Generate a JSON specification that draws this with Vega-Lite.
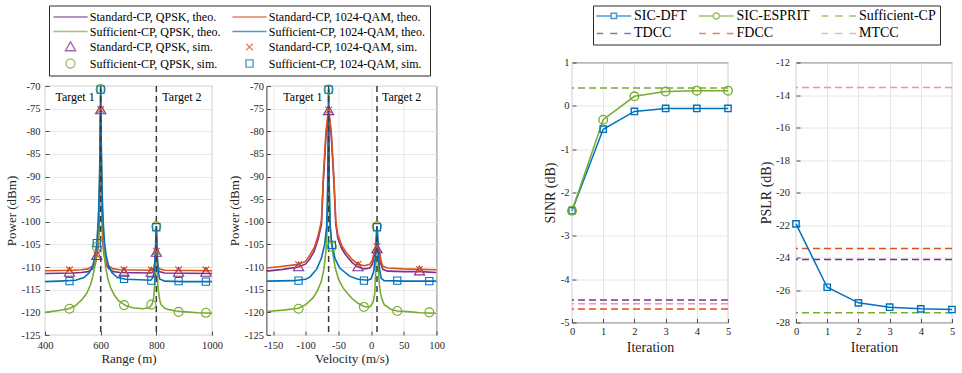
{
  "$schema": "https://vega.github.io/schema/vega-lite/v6.json",
  "background": "white",
  "padding": {"left": 4, "top": 4.5, "right": 2, "bottom": 0},
  "config": {
    "view": {"stroke": "#262626", "strokeWidth": 0.9},
    "font": "Liberation Serif",
    "axis": {
      "domain": false,
      "grid": true,
      "gridColor": "#e6e6e6",
      "gridWidth": 1,
      "ticks": true,
      "tickSize": -4,
      "tickColor": "#262626",
      "tickWidth": 0.8,
      "labelFont": "Liberation Serif",
      "labelFontSize": 10.5,
      "labelColor": "#262626",
      "labelFlush": false,
      "labelOverlap": false,
      "labelExpr": "replace(datum.label, '\u2212', '-')",
      "titleFont": "Liberation Serif",
      "titleFontSize": 13,
      "titleFontWeight": "normal",
      "titleColor": "#262626"
    },
    "axisX": {"titlePadding": 2, "labelPadding": 9},
    "axisY": {"titlePadding": 2.5, "labelPadding": 9},
    "legend": {"labelFont": "Liberation Serif", "labelColor": "#000000"},
    "text": {"font": "Liberation Serif", "fontSize": 12, "color": "#000000"}
  },
  "datasets": {
    "curves": [
      {"panel": "range", "series": "Standard-CP, QPSK, theo.", "x": 400, "p": -111.4},
      {"panel": "range", "series": "Standard-CP, QPSK, theo.", "x": 500, "p": -111.3},
      {"panel": "range", "series": "Standard-CP, QPSK, theo.", "x": 530, "p": -111.2},
      {"panel": "range", "series": "Standard-CP, QPSK, theo.", "x": 555, "p": -111.0},
      {"panel": "range", "series": "Standard-CP, QPSK, theo.", "x": 570, "p": -110.4},
      {"panel": "range", "series": "Standard-CP, QPSK, theo.", "x": 580, "p": -109.5},
      {"panel": "range", "series": "Standard-CP, QPSK, theo.", "x": 586, "p": -107.6},
      {"panel": "range", "series": "Standard-CP, QPSK, theo.", "x": 590, "p": -106.0},
      {"panel": "range", "series": "Standard-CP, QPSK, theo.", "x": 593, "p": -102.5},
      {"panel": "range", "series": "Standard-CP, QPSK, theo.", "x": 596, "p": -95.5},
      {"panel": "range", "series": "Standard-CP, QPSK, theo.", "x": 598, "p": -85.5},
      {"panel": "range", "series": "Standard-CP, QPSK, theo.", "x": 600, "p": -75.4},
      {"panel": "range", "series": "Standard-CP, QPSK, theo.", "x": 602, "p": -85.5},
      {"panel": "range", "series": "Standard-CP, QPSK, theo.", "x": 604, "p": -95.5},
      {"panel": "range", "series": "Standard-CP, QPSK, theo.", "x": 607, "p": -102.5},
      {"panel": "range", "series": "Standard-CP, QPSK, theo.", "x": 610, "p": -106.0},
      {"panel": "range", "series": "Standard-CP, QPSK, theo.", "x": 614, "p": -108.0},
      {"panel": "range", "series": "Standard-CP, QPSK, theo.", "x": 620, "p": -109.5},
      {"panel": "range", "series": "Standard-CP, QPSK, theo.", "x": 630, "p": -110.4},
      {"panel": "range", "series": "Standard-CP, QPSK, theo.", "x": 645, "p": -111.0},
      {"panel": "range", "series": "Standard-CP, QPSK, theo.", "x": 670, "p": -111.2},
      {"panel": "range", "series": "Standard-CP, QPSK, theo.", "x": 780, "p": -111.3},
      {"panel": "range", "series": "Standard-CP, QPSK, theo.", "x": 790, "p": -111.0},
      {"panel": "range", "series": "Standard-CP, QPSK, theo.", "x": 795, "p": -109.6},
      {"panel": "range", "series": "Standard-CP, QPSK, theo.", "x": 798, "p": -108.0},
      {"panel": "range", "series": "Standard-CP, QPSK, theo.", "x": 800, "p": -106.9},
      {"panel": "range", "series": "Standard-CP, QPSK, theo.", "x": 802, "p": -108.0},
      {"panel": "range", "series": "Standard-CP, QPSK, theo.", "x": 805, "p": -110.0},
      {"panel": "range", "series": "Standard-CP, QPSK, theo.", "x": 810, "p": -111.0},
      {"panel": "range", "series": "Standard-CP, QPSK, theo.", "x": 830, "p": -111.3},
      {"panel": "range", "series": "Standard-CP, QPSK, theo.", "x": 1000, "p": -111.4},

      {"panel": "range", "series": "Standard-CP, 1024-QAM, theo.", "x": 400, "p": -110.8},
      {"panel": "range", "series": "Standard-CP, 1024-QAM, theo.", "x": 500, "p": -110.7},
      {"panel": "range", "series": "Standard-CP, 1024-QAM, theo.", "x": 530, "p": -110.6},
      {"panel": "range", "series": "Standard-CP, 1024-QAM, theo.", "x": 555, "p": -110.4},
      {"panel": "range", "series": "Standard-CP, 1024-QAM, theo.", "x": 570, "p": -109.8},
      {"panel": "range", "series": "Standard-CP, 1024-QAM, theo.", "x": 580, "p": -108.9},
      {"panel": "range", "series": "Standard-CP, 1024-QAM, theo.", "x": 586, "p": -107.3},
      {"panel": "range", "series": "Standard-CP, 1024-QAM, theo.", "x": 590, "p": -105.5},
      {"panel": "range", "series": "Standard-CP, 1024-QAM, theo.", "x": 593, "p": -102.0},
      {"panel": "range", "series": "Standard-CP, 1024-QAM, theo.", "x": 596, "p": -95.0},
      {"panel": "range", "series": "Standard-CP, 1024-QAM, theo.", "x": 598, "p": -85.0},
      {"panel": "range", "series": "Standard-CP, 1024-QAM, theo.", "x": 600, "p": -75.2},
      {"panel": "range", "series": "Standard-CP, 1024-QAM, theo.", "x": 602, "p": -85.0},
      {"panel": "range", "series": "Standard-CP, 1024-QAM, theo.", "x": 604, "p": -95.0},
      {"panel": "range", "series": "Standard-CP, 1024-QAM, theo.", "x": 607, "p": -102.0},
      {"panel": "range", "series": "Standard-CP, 1024-QAM, theo.", "x": 610, "p": -105.5},
      {"panel": "range", "series": "Standard-CP, 1024-QAM, theo.", "x": 614, "p": -107.5},
      {"panel": "range", "series": "Standard-CP, 1024-QAM, theo.", "x": 620, "p": -108.9},
      {"panel": "range", "series": "Standard-CP, 1024-QAM, theo.", "x": 630, "p": -109.8},
      {"panel": "range", "series": "Standard-CP, 1024-QAM, theo.", "x": 645, "p": -110.4},
      {"panel": "range", "series": "Standard-CP, 1024-QAM, theo.", "x": 670, "p": -110.6},
      {"panel": "range", "series": "Standard-CP, 1024-QAM, theo.", "x": 780, "p": -110.7},
      {"panel": "range", "series": "Standard-CP, 1024-QAM, theo.", "x": 790, "p": -110.4},
      {"panel": "range", "series": "Standard-CP, 1024-QAM, theo.", "x": 795, "p": -109.0},
      {"panel": "range", "series": "Standard-CP, 1024-QAM, theo.", "x": 798, "p": -107.5},
      {"panel": "range", "series": "Standard-CP, 1024-QAM, theo.", "x": 800, "p": -106.4},
      {"panel": "range", "series": "Standard-CP, 1024-QAM, theo.", "x": 802, "p": -107.5},
      {"panel": "range", "series": "Standard-CP, 1024-QAM, theo.", "x": 805, "p": -109.5},
      {"panel": "range", "series": "Standard-CP, 1024-QAM, theo.", "x": 810, "p": -110.4},
      {"panel": "range", "series": "Standard-CP, 1024-QAM, theo.", "x": 830, "p": -110.7},
      {"panel": "range", "series": "Standard-CP, 1024-QAM, theo.", "x": 1000, "p": -110.8},

      {"panel": "range", "series": "Sufficient-CP, QPSK, theo.", "x": 400, "p": -120.0},
      {"panel": "range", "series": "Sufficient-CP, QPSK, theo.", "x": 450, "p": -119.6},
      {"panel": "range", "series": "Sufficient-CP, QPSK, theo.", "x": 486, "p": -119.2},
      {"panel": "range", "series": "Sufficient-CP, QPSK, theo.", "x": 510, "p": -118.5},
      {"panel": "range", "series": "Sufficient-CP, QPSK, theo.", "x": 534, "p": -117.1},
      {"panel": "range", "series": "Sufficient-CP, QPSK, theo.", "x": 550, "p": -115.8},
      {"panel": "range", "series": "Sufficient-CP, QPSK, theo.", "x": 564, "p": -113.8},
      {"panel": "range", "series": "Sufficient-CP, QPSK, theo.", "x": 572, "p": -112.0},
      {"panel": "range", "series": "Sufficient-CP, QPSK, theo.", "x": 580, "p": -109.4},
      {"panel": "range", "series": "Sufficient-CP, QPSK, theo.", "x": 586, "p": -106.5},
      {"panel": "range", "series": "Sufficient-CP, QPSK, theo.", "x": 590, "p": -103.5},
      {"panel": "range", "series": "Sufficient-CP, QPSK, theo.", "x": 594, "p": -97.0},
      {"panel": "range", "series": "Sufficient-CP, QPSK, theo.", "x": 597, "p": -88.0},
      {"panel": "range", "series": "Sufficient-CP, QPSK, theo.", "x": 599, "p": -78.0},
      {"panel": "range", "series": "Sufficient-CP, QPSK, theo.", "x": 600, "p": -70.6},
      {"panel": "range", "series": "Sufficient-CP, QPSK, theo.", "x": 601, "p": -78.0},
      {"panel": "range", "series": "Sufficient-CP, QPSK, theo.", "x": 603, "p": -88.0},
      {"panel": "range", "series": "Sufficient-CP, QPSK, theo.", "x": 606, "p": -97.0},
      {"panel": "range", "series": "Sufficient-CP, QPSK, theo.", "x": 610, "p": -103.5},
      {"panel": "range", "series": "Sufficient-CP, QPSK, theo.", "x": 614, "p": -107.5},
      {"panel": "range", "series": "Sufficient-CP, QPSK, theo.", "x": 618, "p": -110.1},
      {"panel": "range", "series": "Sufficient-CP, QPSK, theo.", "x": 626, "p": -112.6},
      {"panel": "range", "series": "Sufficient-CP, QPSK, theo.", "x": 636, "p": -114.6},
      {"panel": "range", "series": "Sufficient-CP, QPSK, theo.", "x": 650, "p": -116.3},
      {"panel": "range", "series": "Sufficient-CP, QPSK, theo.", "x": 666, "p": -117.5},
      {"panel": "range", "series": "Sufficient-CP, QPSK, theo.", "x": 690, "p": -118.5},
      {"panel": "range", "series": "Sufficient-CP, QPSK, theo.", "x": 714, "p": -119.0},
      {"panel": "range", "series": "Sufficient-CP, QPSK, theo.", "x": 750, "p": -119.2},
      {"panel": "range", "series": "Sufficient-CP, QPSK, theo.", "x": 774, "p": -119.0},
      {"panel": "range", "series": "Sufficient-CP, QPSK, theo.", "x": 784, "p": -118.3},
      {"panel": "range", "series": "Sufficient-CP, QPSK, theo.", "x": 790, "p": -117.0},
      {"panel": "range", "series": "Sufficient-CP, QPSK, theo.", "x": 794, "p": -114.0},
      {"panel": "range", "series": "Sufficient-CP, QPSK, theo.", "x": 797, "p": -108.0},
      {"panel": "range", "series": "Sufficient-CP, QPSK, theo.", "x": 799, "p": -103.0},
      {"panel": "range", "series": "Sufficient-CP, QPSK, theo.", "x": 800, "p": -101.0},
      {"panel": "range", "series": "Sufficient-CP, QPSK, theo.", "x": 801, "p": -103.0},
      {"panel": "range", "series": "Sufficient-CP, QPSK, theo.", "x": 803, "p": -110.0},
      {"panel": "range", "series": "Sufficient-CP, QPSK, theo.", "x": 806, "p": -114.6},
      {"panel": "range", "series": "Sufficient-CP, QPSK, theo.", "x": 812, "p": -117.2},
      {"panel": "range", "series": "Sufficient-CP, QPSK, theo.", "x": 816, "p": -118.2},
      {"panel": "range", "series": "Sufficient-CP, QPSK, theo.", "x": 830, "p": -119.1},
      {"panel": "range", "series": "Sufficient-CP, QPSK, theo.", "x": 846, "p": -119.4},
      {"panel": "range", "series": "Sufficient-CP, QPSK, theo.", "x": 870, "p": -119.7},
      {"panel": "range", "series": "Sufficient-CP, QPSK, theo.", "x": 905, "p": -119.9},
      {"panel": "range", "series": "Sufficient-CP, QPSK, theo.", "x": 950, "p": -120.1},
      {"panel": "range", "series": "Sufficient-CP, QPSK, theo.", "x": 1000, "p": -120.2},

      {"panel": "range", "series": "Sufficient-CP, 1024-QAM, theo.", "x": 400, "p": -113.2},
      {"panel": "range", "series": "Sufficient-CP, 1024-QAM, theo.", "x": 450, "p": -113.1},
      {"panel": "range", "series": "Sufficient-CP, 1024-QAM, theo.", "x": 510, "p": -112.9},
      {"panel": "range", "series": "Sufficient-CP, 1024-QAM, theo.", "x": 540, "p": -112.3},
      {"panel": "range", "series": "Sufficient-CP, 1024-QAM, theo.", "x": 560, "p": -111.2},
      {"panel": "range", "series": "Sufficient-CP, 1024-QAM, theo.", "x": 572, "p": -109.6},
      {"panel": "range", "series": "Sufficient-CP, 1024-QAM, theo.", "x": 580, "p": -107.5},
      {"panel": "range", "series": "Sufficient-CP, 1024-QAM, theo.", "x": 586, "p": -104.7},
      {"panel": "range", "series": "Sufficient-CP, 1024-QAM, theo.", "x": 590, "p": -101.0},
      {"panel": "range", "series": "Sufficient-CP, 1024-QAM, theo.", "x": 593, "p": -97.0},
      {"panel": "range", "series": "Sufficient-CP, 1024-QAM, theo.", "x": 596, "p": -90.0},
      {"panel": "range", "series": "Sufficient-CP, 1024-QAM, theo.", "x": 598, "p": -82.0},
      {"panel": "range", "series": "Sufficient-CP, 1024-QAM, theo.", "x": 600, "p": -70.6},
      {"panel": "range", "series": "Sufficient-CP, 1024-QAM, theo.", "x": 602, "p": -82.0},
      {"panel": "range", "series": "Sufficient-CP, 1024-QAM, theo.", "x": 604, "p": -90.0},
      {"panel": "range", "series": "Sufficient-CP, 1024-QAM, theo.", "x": 607, "p": -97.0},
      {"panel": "range", "series": "Sufficient-CP, 1024-QAM, theo.", "x": 610, "p": -101.0},
      {"panel": "range", "series": "Sufficient-CP, 1024-QAM, theo.", "x": 614, "p": -104.7},
      {"panel": "range", "series": "Sufficient-CP, 1024-QAM, theo.", "x": 620, "p": -107.5},
      {"panel": "range", "series": "Sufficient-CP, 1024-QAM, theo.", "x": 628, "p": -109.6},
      {"panel": "range", "series": "Sufficient-CP, 1024-QAM, theo.", "x": 640, "p": -111.2},
      {"panel": "range", "series": "Sufficient-CP, 1024-QAM, theo.", "x": 660, "p": -112.3},
      {"panel": "range", "series": "Sufficient-CP, 1024-QAM, theo.", "x": 690, "p": -112.7},
      {"panel": "range", "series": "Sufficient-CP, 1024-QAM, theo.", "x": 740, "p": -112.8},
      {"panel": "range", "series": "Sufficient-CP, 1024-QAM, theo.", "x": 780, "p": -112.9},
      {"panel": "range", "series": "Sufficient-CP, 1024-QAM, theo.", "x": 788, "p": -112.3},
      {"panel": "range", "series": "Sufficient-CP, 1024-QAM, theo.", "x": 793, "p": -110.5},
      {"panel": "range", "series": "Sufficient-CP, 1024-QAM, theo.", "x": 796, "p": -107.0},
      {"panel": "range", "series": "Sufficient-CP, 1024-QAM, theo.", "x": 798, "p": -104.0},
      {"panel": "range", "series": "Sufficient-CP, 1024-QAM, theo.", "x": 800, "p": -101.1},
      {"panel": "range", "series": "Sufficient-CP, 1024-QAM, theo.", "x": 802, "p": -104.0},
      {"panel": "range", "series": "Sufficient-CP, 1024-QAM, theo.", "x": 804, "p": -108.0},
      {"panel": "range", "series": "Sufficient-CP, 1024-QAM, theo.", "x": 807, "p": -111.0},
      {"panel": "range", "series": "Sufficient-CP, 1024-QAM, theo.", "x": 812, "p": -112.6},
      {"panel": "range", "series": "Sufficient-CP, 1024-QAM, theo.", "x": 830, "p": -113.1},
      {"panel": "range", "series": "Sufficient-CP, 1024-QAM, theo.", "x": 900, "p": -113.2},
      {"panel": "range", "series": "Sufficient-CP, 1024-QAM, theo.", "x": 1000, "p": -113.2},

      {"panel": "velocity", "series": "Standard-CP, QPSK, theo.", "x": -160, "p": -110.9},
      {"panel": "velocity", "series": "Standard-CP, QPSK, theo.", "x": -135, "p": -110.5},
      {"panel": "velocity", "series": "Standard-CP, QPSK, theo.", "x": -111, "p": -110.0},
      {"panel": "velocity", "series": "Standard-CP, QPSK, theo.", "x": -100, "p": -109.3},
      {"panel": "velocity", "series": "Standard-CP, QPSK, theo.", "x": -94, "p": -108.2},
      {"panel": "velocity", "series": "Standard-CP, QPSK, theo.", "x": -87, "p": -106.5},
      {"panel": "velocity", "series": "Standard-CP, QPSK, theo.", "x": -81, "p": -103.8},
      {"panel": "velocity", "series": "Standard-CP, QPSK, theo.", "x": -76, "p": -100.6},
      {"panel": "velocity", "series": "Standard-CP, QPSK, theo.", "x": -73, "p": -91.0},
      {"panel": "velocity", "series": "Standard-CP, QPSK, theo.", "x": -69, "p": -81.0},
      {"panel": "velocity", "series": "Standard-CP, QPSK, theo.", "x": -65, "p": -75.5},
      {"panel": "velocity", "series": "Standard-CP, QPSK, theo.", "x": -61, "p": -81.0},
      {"panel": "velocity", "series": "Standard-CP, QPSK, theo.", "x": -57, "p": -91.0},
      {"panel": "velocity", "series": "Standard-CP, QPSK, theo.", "x": -54, "p": -100.6},
      {"panel": "velocity", "series": "Standard-CP, QPSK, theo.", "x": -51, "p": -103.6},
      {"panel": "velocity", "series": "Standard-CP, QPSK, theo.", "x": -45, "p": -105.9},
      {"panel": "velocity", "series": "Standard-CP, QPSK, theo.", "x": -39, "p": -107.3},
      {"panel": "velocity", "series": "Standard-CP, QPSK, theo.", "x": -29, "p": -109.0},
      {"panel": "velocity", "series": "Standard-CP, QPSK, theo.", "x": -20, "p": -110.0},
      {"panel": "velocity", "series": "Standard-CP, QPSK, theo.", "x": -10, "p": -110.4},
      {"panel": "velocity", "series": "Standard-CP, QPSK, theo.", "x": -2, "p": -110.2},
      {"panel": "velocity", "series": "Standard-CP, QPSK, theo.", "x": 2, "p": -109.3},
      {"panel": "velocity", "series": "Standard-CP, QPSK, theo.", "x": 5, "p": -107.3},
      {"panel": "velocity", "series": "Standard-CP, QPSK, theo.", "x": 7, "p": -106.3},
      {"panel": "velocity", "series": "Standard-CP, QPSK, theo.", "x": 9, "p": -106.0},
      {"panel": "velocity", "series": "Standard-CP, QPSK, theo.", "x": 11, "p": -106.3},
      {"panel": "velocity", "series": "Standard-CP, QPSK, theo.", "x": 13, "p": -107.3},
      {"panel": "velocity", "series": "Standard-CP, QPSK, theo.", "x": 15, "p": -109.3},
      {"panel": "velocity", "series": "Standard-CP, QPSK, theo.", "x": 18, "p": -110.5},
      {"panel": "velocity", "series": "Standard-CP, QPSK, theo.", "x": 25, "p": -110.9},
      {"panel": "velocity", "series": "Standard-CP, QPSK, theo.", "x": 50, "p": -111.0},
      {"panel": "velocity", "series": "Standard-CP, QPSK, theo.", "x": 75, "p": -111.0},
      {"panel": "velocity", "series": "Standard-CP, QPSK, theo.", "x": 100, "p": -111.2},

      {"panel": "velocity", "series": "Standard-CP, 1024-QAM, theo.", "x": -160, "p": -110.2},
      {"panel": "velocity", "series": "Standard-CP, 1024-QAM, theo.", "x": -135, "p": -109.8},
      {"panel": "velocity", "series": "Standard-CP, 1024-QAM, theo.", "x": -111, "p": -109.4},
      {"panel": "velocity", "series": "Standard-CP, 1024-QAM, theo.", "x": -100, "p": -108.7},
      {"panel": "velocity", "series": "Standard-CP, 1024-QAM, theo.", "x": -94, "p": -107.4},
      {"panel": "velocity", "series": "Standard-CP, 1024-QAM, theo.", "x": -87, "p": -105.7},
      {"panel": "velocity", "series": "Standard-CP, 1024-QAM, theo.", "x": -81, "p": -103.0},
      {"panel": "velocity", "series": "Standard-CP, 1024-QAM, theo.", "x": -76, "p": -99.8},
      {"panel": "velocity", "series": "Standard-CP, 1024-QAM, theo.", "x": -73, "p": -89.9},
      {"panel": "velocity", "series": "Standard-CP, 1024-QAM, theo.", "x": -69, "p": -79.9},
      {"panel": "velocity", "series": "Standard-CP, 1024-QAM, theo.", "x": -65, "p": -75.2},
      {"panel": "velocity", "series": "Standard-CP, 1024-QAM, theo.", "x": -61, "p": -79.9},
      {"panel": "velocity", "series": "Standard-CP, 1024-QAM, theo.", "x": -57, "p": -89.9},
      {"panel": "velocity", "series": "Standard-CP, 1024-QAM, theo.", "x": -54, "p": -99.8},
      {"panel": "velocity", "series": "Standard-CP, 1024-QAM, theo.", "x": -51, "p": -102.8},
      {"panel": "velocity", "series": "Standard-CP, 1024-QAM, theo.", "x": -45, "p": -105.2},
      {"panel": "velocity", "series": "Standard-CP, 1024-QAM, theo.", "x": -39, "p": -106.6},
      {"panel": "velocity", "series": "Standard-CP, 1024-QAM, theo.", "x": -29, "p": -108.3},
      {"panel": "velocity", "series": "Standard-CP, 1024-QAM, theo.", "x": -20, "p": -109.4},
      {"panel": "velocity", "series": "Standard-CP, 1024-QAM, theo.", "x": -10, "p": -109.7},
      {"panel": "velocity", "series": "Standard-CP, 1024-QAM, theo.", "x": -2, "p": -109.4},
      {"panel": "velocity", "series": "Standard-CP, 1024-QAM, theo.", "x": 2, "p": -108.4},
      {"panel": "velocity", "series": "Standard-CP, 1024-QAM, theo.", "x": 5, "p": -106.6},
      {"panel": "velocity", "series": "Standard-CP, 1024-QAM, theo.", "x": 7, "p": -105.7},
      {"panel": "velocity", "series": "Standard-CP, 1024-QAM, theo.", "x": 9, "p": -105.5},
      {"panel": "velocity", "series": "Standard-CP, 1024-QAM, theo.", "x": 11, "p": -105.7},
      {"panel": "velocity", "series": "Standard-CP, 1024-QAM, theo.", "x": 13, "p": -106.6},
      {"panel": "velocity", "series": "Standard-CP, 1024-QAM, theo.", "x": 15, "p": -108.6},
      {"panel": "velocity", "series": "Standard-CP, 1024-QAM, theo.", "x": 18, "p": -109.8},
      {"panel": "velocity", "series": "Standard-CP, 1024-QAM, theo.", "x": 25, "p": -110.2},
      {"panel": "velocity", "series": "Standard-CP, 1024-QAM, theo.", "x": 50, "p": -110.4},
      {"panel": "velocity", "series": "Standard-CP, 1024-QAM, theo.", "x": 75, "p": -110.5},
      {"panel": "velocity", "series": "Standard-CP, 1024-QAM, theo.", "x": 100, "p": -110.6},

      {"panel": "velocity", "series": "Sufficient-CP, QPSK, theo.", "x": -160, "p": -119.8},
      {"panel": "velocity", "series": "Sufficient-CP, QPSK, theo.", "x": -135, "p": -119.5},
      {"panel": "velocity", "series": "Sufficient-CP, QPSK, theo.", "x": -111, "p": -119.1},
      {"panel": "velocity", "series": "Sufficient-CP, QPSK, theo.", "x": -100, "p": -118.3},
      {"panel": "velocity", "series": "Sufficient-CP, QPSK, theo.", "x": -89, "p": -116.8},
      {"panel": "velocity", "series": "Sufficient-CP, QPSK, theo.", "x": -82, "p": -115.2},
      {"panel": "velocity", "series": "Sufficient-CP, QPSK, theo.", "x": -76, "p": -113.1},
      {"panel": "velocity", "series": "Sufficient-CP, QPSK, theo.", "x": -72, "p": -110.3},
      {"panel": "velocity", "series": "Sufficient-CP, QPSK, theo.", "x": -69, "p": -106.4},
      {"panel": "velocity", "series": "Sufficient-CP, QPSK, theo.", "x": -67, "p": -101.0},
      {"panel": "velocity", "series": "Sufficient-CP, QPSK, theo.", "x": -66, "p": -95.0},
      {"panel": "velocity", "series": "Sufficient-CP, QPSK, theo.", "x": -65, "p": -70.8},
      {"panel": "velocity", "series": "Sufficient-CP, QPSK, theo.", "x": -64, "p": -95.0},
      {"panel": "velocity", "series": "Sufficient-CP, QPSK, theo.", "x": -63, "p": -100.5},
      {"panel": "velocity", "series": "Sufficient-CP, QPSK, theo.", "x": -61, "p": -104.0},
      {"panel": "velocity", "series": "Sufficient-CP, QPSK, theo.", "x": -58, "p": -107.5},
      {"panel": "velocity", "series": "Sufficient-CP, QPSK, theo.", "x": -55, "p": -110.1},
      {"panel": "velocity", "series": "Sufficient-CP, QPSK, theo.", "x": -50, "p": -112.6},
      {"panel": "velocity", "series": "Sufficient-CP, QPSK, theo.", "x": -43, "p": -114.6},
      {"panel": "velocity", "series": "Sufficient-CP, QPSK, theo.", "x": -35, "p": -116.0},
      {"panel": "velocity", "series": "Sufficient-CP, QPSK, theo.", "x": -28, "p": -117.1},
      {"panel": "velocity", "series": "Sufficient-CP, QPSK, theo.", "x": -20, "p": -118.0},
      {"panel": "velocity", "series": "Sufficient-CP, QPSK, theo.", "x": -11, "p": -118.7},
      {"panel": "velocity", "series": "Sufficient-CP, QPSK, theo.", "x": -2, "p": -118.8},
      {"panel": "velocity", "series": "Sufficient-CP, QPSK, theo.", "x": 3, "p": -117.8},
      {"panel": "velocity", "series": "Sufficient-CP, QPSK, theo.", "x": 5.5, "p": -116.0},
      {"panel": "velocity", "series": "Sufficient-CP, QPSK, theo.", "x": 7, "p": -111.0},
      {"panel": "velocity", "series": "Sufficient-CP, QPSK, theo.", "x": 8, "p": -104.0},
      {"panel": "velocity", "series": "Sufficient-CP, QPSK, theo.", "x": 9, "p": -101.0},
      {"panel": "velocity", "series": "Sufficient-CP, QPSK, theo.", "x": 10, "p": -104.0},
      {"panel": "velocity", "series": "Sufficient-CP, QPSK, theo.", "x": 11, "p": -110.0},
      {"panel": "velocity", "series": "Sufficient-CP, QPSK, theo.", "x": 12.5, "p": -113.5},
      {"panel": "velocity", "series": "Sufficient-CP, QPSK, theo.", "x": 14, "p": -115.5},
      {"panel": "velocity", "series": "Sufficient-CP, QPSK, theo.", "x": 16, "p": -116.8},
      {"panel": "velocity", "series": "Sufficient-CP, QPSK, theo.", "x": 20, "p": -118.3},
      {"panel": "velocity", "series": "Sufficient-CP, QPSK, theo.", "x": 30, "p": -119.3},
      {"panel": "velocity", "series": "Sufficient-CP, QPSK, theo.", "x": 40, "p": -119.7},
      {"panel": "velocity", "series": "Sufficient-CP, QPSK, theo.", "x": 60, "p": -119.9},
      {"panel": "velocity", "series": "Sufficient-CP, QPSK, theo.", "x": 75, "p": -120.1},
      {"panel": "velocity", "series": "Sufficient-CP, QPSK, theo.", "x": 100, "p": -120.2},

      {"panel": "velocity", "series": "Sufficient-CP, 1024-QAM, theo.", "x": -160, "p": -113.1},
      {"panel": "velocity", "series": "Sufficient-CP, 1024-QAM, theo.", "x": -120, "p": -113.0},
      {"panel": "velocity", "series": "Sufficient-CP, 1024-QAM, theo.", "x": -100, "p": -112.7},
      {"panel": "velocity", "series": "Sufficient-CP, 1024-QAM, theo.", "x": -93, "p": -112.1},
      {"panel": "velocity", "series": "Sufficient-CP, 1024-QAM, theo.", "x": -83, "p": -110.4},
      {"panel": "velocity", "series": "Sufficient-CP, 1024-QAM, theo.", "x": -76, "p": -108.0},
      {"panel": "velocity", "series": "Sufficient-CP, 1024-QAM, theo.", "x": -71, "p": -105.0},
      {"panel": "velocity", "series": "Sufficient-CP, 1024-QAM, theo.", "x": -68, "p": -101.0},
      {"panel": "velocity", "series": "Sufficient-CP, 1024-QAM, theo.", "x": -66.5, "p": -92.0},
      {"panel": "velocity", "series": "Sufficient-CP, 1024-QAM, theo.", "x": -65, "p": -70.8},
      {"panel": "velocity", "series": "Sufficient-CP, 1024-QAM, theo.", "x": -64, "p": -92.0},
      {"panel": "velocity", "series": "Sufficient-CP, 1024-QAM, theo.", "x": -62.5, "p": -101.0},
      {"panel": "velocity", "series": "Sufficient-CP, 1024-QAM, theo.", "x": -60, "p": -105.0},
      {"panel": "velocity", "series": "Sufficient-CP, 1024-QAM, theo.", "x": -55, "p": -108.2},
      {"panel": "velocity", "series": "Sufficient-CP, 1024-QAM, theo.", "x": -48, "p": -110.2},
      {"panel": "velocity", "series": "Sufficient-CP, 1024-QAM, theo.", "x": -33, "p": -112.0},
      {"panel": "velocity", "series": "Sufficient-CP, 1024-QAM, theo.", "x": -20, "p": -112.7},
      {"panel": "velocity", "series": "Sufficient-CP, 1024-QAM, theo.", "x": -5, "p": -112.9},
      {"panel": "velocity", "series": "Sufficient-CP, 1024-QAM, theo.", "x": 0, "p": -112.6},
      {"panel": "velocity", "series": "Sufficient-CP, 1024-QAM, theo.", "x": 4, "p": -111.0},
      {"panel": "velocity", "series": "Sufficient-CP, 1024-QAM, theo.", "x": 6.5, "p": -107.5},
      {"panel": "velocity", "series": "Sufficient-CP, 1024-QAM, theo.", "x": 8, "p": -103.0},
      {"panel": "velocity", "series": "Sufficient-CP, 1024-QAM, theo.", "x": 9, "p": -101.2},
      {"panel": "velocity", "series": "Sufficient-CP, 1024-QAM, theo.", "x": 10, "p": -103.0},
      {"panel": "velocity", "series": "Sufficient-CP, 1024-QAM, theo.", "x": 11.5, "p": -107.5},
      {"panel": "velocity", "series": "Sufficient-CP, 1024-QAM, theo.", "x": 13, "p": -110.5},
      {"panel": "velocity", "series": "Sufficient-CP, 1024-QAM, theo.", "x": 15.5, "p": -112.5},
      {"panel": "velocity", "series": "Sufficient-CP, 1024-QAM, theo.", "x": 20, "p": -113.0},
      {"panel": "velocity", "series": "Sufficient-CP, 1024-QAM, theo.", "x": 50, "p": -113.1},
      {"panel": "velocity", "series": "Sufficient-CP, 1024-QAM, theo.", "x": 100, "p": -113.1}
    ],
    "sims": [
      {"panel": "range", "series": "Standard-CP, QPSK, sim.", "x": 488, "p": -111.2},
      {"panel": "range", "series": "Standard-CP, QPSK, sim.", "x": 586, "p": -107.5},
      {"panel": "range", "series": "Standard-CP, QPSK, sim.", "x": 600, "p": -75.3},
      {"panel": "range", "series": "Standard-CP, QPSK, sim.", "x": 684, "p": -111.2},
      {"panel": "range", "series": "Standard-CP, QPSK, sim.", "x": 782, "p": -111.2},
      {"panel": "range", "series": "Standard-CP, QPSK, sim.", "x": 800, "p": -106.8},
      {"panel": "range", "series": "Standard-CP, QPSK, sim.", "x": 880, "p": -111.2},
      {"panel": "range", "series": "Standard-CP, QPSK, sim.", "x": 978, "p": -111.2},
      {"panel": "range", "series": "Standard-CP, 1024-QAM, sim.", "x": 488, "p": -110.6},
      {"panel": "range", "series": "Standard-CP, 1024-QAM, sim.", "x": 586, "p": -107.3},
      {"panel": "range", "series": "Standard-CP, 1024-QAM, sim.", "x": 600, "p": -75.2},
      {"panel": "range", "series": "Standard-CP, 1024-QAM, sim.", "x": 684, "p": -110.6},
      {"panel": "range", "series": "Standard-CP, 1024-QAM, sim.", "x": 782, "p": -110.6},
      {"panel": "range", "series": "Standard-CP, 1024-QAM, sim.", "x": 800, "p": -106.5},
      {"panel": "range", "series": "Standard-CP, 1024-QAM, sim.", "x": 880, "p": -110.6},
      {"panel": "range", "series": "Standard-CP, 1024-QAM, sim.", "x": 978, "p": -110.6},
      {"panel": "range", "series": "Sufficient-CP, QPSK, sim.", "x": 488, "p": -119.2},
      {"panel": "range", "series": "Sufficient-CP, QPSK, sim.", "x": 586, "p": -105.5},
      {"panel": "range", "series": "Sufficient-CP, QPSK, sim.", "x": 600, "p": -70.7},
      {"panel": "range", "series": "Sufficient-CP, QPSK, sim.", "x": 684, "p": -118.4},
      {"panel": "range", "series": "Sufficient-CP, QPSK, sim.", "x": 782, "p": -118.3},
      {"panel": "range", "series": "Sufficient-CP, QPSK, sim.", "x": 800, "p": -101.0},
      {"panel": "range", "series": "Sufficient-CP, QPSK, sim.", "x": 880, "p": -119.9},
      {"panel": "range", "series": "Sufficient-CP, QPSK, sim.", "x": 978, "p": -120.1},
      {"panel": "range", "series": "Sufficient-CP, 1024-QAM, sim.", "x": 488, "p": -113.1},
      {"panel": "range", "series": "Sufficient-CP, 1024-QAM, sim.", "x": 586, "p": -104.7},
      {"panel": "range", "series": "Sufficient-CP, 1024-QAM, sim.", "x": 600, "p": -70.8},
      {"panel": "range", "series": "Sufficient-CP, 1024-QAM, sim.", "x": 684, "p": -112.6},
      {"panel": "range", "series": "Sufficient-CP, 1024-QAM, sim.", "x": 782, "p": -113.0},
      {"panel": "range", "series": "Sufficient-CP, 1024-QAM, sim.", "x": 800, "p": -101.2},
      {"panel": "range", "series": "Sufficient-CP, 1024-QAM, sim.", "x": 880, "p": -113.1},
      {"panel": "range", "series": "Sufficient-CP, 1024-QAM, sim.", "x": 978, "p": -113.2},

      {"panel": "velocity", "series": "Standard-CP, QPSK, sim.", "x": -111, "p": -110.0},
      {"panel": "velocity", "series": "Standard-CP, QPSK, sim.", "x": -65, "p": -75.5},
      {"panel": "velocity", "series": "Standard-CP, QPSK, sim.", "x": -20, "p": -110.0},
      {"panel": "velocity", "series": "Standard-CP, QPSK, sim.", "x": 9, "p": -106.0},
      {"panel": "velocity", "series": "Standard-CP, QPSK, sim.", "x": 74, "p": -110.9},
      {"panel": "velocity", "series": "Standard-CP, 1024-QAM, sim.", "x": -111, "p": -109.4},
      {"panel": "velocity", "series": "Standard-CP, 1024-QAM, sim.", "x": -65, "p": -75.3},
      {"panel": "velocity", "series": "Standard-CP, 1024-QAM, sim.", "x": -20, "p": -109.4},
      {"panel": "velocity", "series": "Standard-CP, 1024-QAM, sim.", "x": 9, "p": -105.5},
      {"panel": "velocity", "series": "Standard-CP, 1024-QAM, sim.", "x": 74, "p": -110.5},
      {"panel": "velocity", "series": "Sufficient-CP, QPSK, sim.", "x": -111, "p": -119.2},
      {"panel": "velocity", "series": "Sufficient-CP, QPSK, sim.", "x": -65, "p": -70.8},
      {"panel": "velocity", "series": "Sufficient-CP, QPSK, sim.", "x": -60, "p": -105.5},
      {"panel": "velocity", "series": "Sufficient-CP, QPSK, sim.", "x": -11, "p": -118.8},
      {"panel": "velocity", "series": "Sufficient-CP, QPSK, sim.", "x": 9, "p": -101.0},
      {"panel": "velocity", "series": "Sufficient-CP, QPSK, sim.", "x": 40, "p": -119.7},
      {"panel": "velocity", "series": "Sufficient-CP, QPSK, sim.", "x": 89, "p": -120.0},
      {"panel": "velocity", "series": "Sufficient-CP, 1024-QAM, sim.", "x": -111, "p": -113.0},
      {"panel": "velocity", "series": "Sufficient-CP, 1024-QAM, sim.", "x": -65, "p": -70.8},
      {"panel": "velocity", "series": "Sufficient-CP, 1024-QAM, sim.", "x": -60, "p": -105.1},
      {"panel": "velocity", "series": "Sufficient-CP, 1024-QAM, sim.", "x": -11, "p": -113.0},
      {"panel": "velocity", "series": "Sufficient-CP, 1024-QAM, sim.", "x": 9, "p": -101.2},
      {"panel": "velocity", "series": "Sufficient-CP, 1024-QAM, sim.", "x": 40, "p": -113.0},
      {"panel": "velocity", "series": "Sufficient-CP, 1024-QAM, sim.", "x": 89, "p": -113.1}
    ],
    "targets": [
      {"panel": "range", "label": "Target 1", "x": 600},
      {"panel": "range", "label": "Target 2", "x": 800},
      {"panel": "velocity", "label": "Target 1", "x": -65},
      {"panel": "velocity", "label": "Target 2", "x": 9}
    ],
    "iter": [
      {"metric": "SINR", "series": "SIC-DFT", "it": 0, "v": -2.42},
      {"metric": "SINR", "series": "SIC-DFT", "it": 1, "v": -0.54},
      {"metric": "SINR", "series": "SIC-DFT", "it": 2, "v": -0.13},
      {"metric": "SINR", "series": "SIC-DFT", "it": 3, "v": -0.06},
      {"metric": "SINR", "series": "SIC-DFT", "it": 4, "v": -0.06},
      {"metric": "SINR", "series": "SIC-DFT", "it": 5, "v": -0.06},
      {"metric": "SINR", "series": "SIC-ESPRIT", "it": 0, "v": -2.42},
      {"metric": "SINR", "series": "SIC-ESPRIT", "it": 1, "v": -0.32},
      {"metric": "SINR", "series": "SIC-ESPRIT", "it": 2, "v": 0.22},
      {"metric": "SINR", "series": "SIC-ESPRIT", "it": 3, "v": 0.33},
      {"metric": "SINR", "series": "SIC-ESPRIT", "it": 4, "v": 0.35},
      {"metric": "SINR", "series": "SIC-ESPRIT", "it": 5, "v": 0.35},
      {"metric": "PSLR", "series": "SIC-DFT", "it": 0, "v": -21.93},
      {"metric": "PSLR", "series": "SIC-DFT", "it": 1, "v": -25.83},
      {"metric": "PSLR", "series": "SIC-DFT", "it": 2, "v": -26.79},
      {"metric": "PSLR", "series": "SIC-DFT", "it": 3, "v": -27.06},
      {"metric": "PSLR", "series": "SIC-DFT", "it": 4, "v": -27.16},
      {"metric": "PSLR", "series": "SIC-DFT", "it": 5, "v": -27.2}
    ],
    "bench": [
      {"metric": "SINR", "series": "Sufficient-CP", "v": 0.41},
      {"metric": "SINR", "series": "TDCC", "v": -4.48},
      {"metric": "SINR", "series": "FDCC", "v": -4.69},
      {"metric": "SINR", "series": "MTCC", "v": -4.57},
      {"metric": "PSLR", "series": "Sufficient-CP", "v": -27.4},
      {"metric": "PSLR", "series": "TDCC", "v": -24.12},
      {"metric": "PSLR", "series": "FDCC", "v": -23.45},
      {"metric": "PSLR", "series": "MTCC", "v": -13.54}
    ]
  },
  "spacing": 98,
  "resolve": {
    "scale": {"color": "independent", "shape": "independent"},
    "legend": {"color": "independent", "shape": "independent"}
  },
  "hconcat": [
    {
      "spacing": 3.5,
      "resolve": {
        "scale": {"color": "independent", "shape": "independent"},
        "legend": {"color": "independent", "shape": "independent"}
      },
      "vconcat": [
        {
          "width": 1,
          "height": 1,
          "view": {"stroke": null},
          "data": {"name": "sims"},
          "transform": [{"filter": "false"}],
          "mark": {"type": "point", "filled": false},
          "encoding": {
            "color": {
              "field": "series", "type": "nominal",
              "scale": {
                "domain": ["Standard-CP, QPSK, theo.", "Sufficient-CP, QPSK, theo.", "Standard-CP, QPSK, sim.", "Sufficient-CP, QPSK, sim.", "Standard-CP, 1024-QAM, theo.", "Sufficient-CP, 1024-QAM, theo.", "Standard-CP, 1024-QAM, sim.", "Sufficient-CP, 1024-QAM, sim."],
                "range": ["#7E2F8E", "#77AC30", "#7E2F8E", "#77AC30", "#D95319", "#0072BD", "#D95319", "#0072BD"]
              },
              "legend": {"title": null, "orient": "none", "legendX": 4, "legendY": 0, "columns": 2, "columnPadding": 8, "rowPadding": 1.5, "symbolSize": 144, "symbolOffset": 10, "labelOffset": 12.3, "symbolStrokeWidth": 1.4, "labelFontSize": 12, "labelLimit": 400, "padding": 4.5, "strokeColor": "#2b2b2b", "fillColor": "#ffffff"}
            },
            "shape": {
              "field": "series", "type": "nominal",
              "scale": {
                "domain": ["Standard-CP, QPSK, theo.", "Sufficient-CP, QPSK, theo.", "Standard-CP, QPSK, sim.", "Sufficient-CP, QPSK, sim.", "Standard-CP, 1024-QAM, theo.", "Sufficient-CP, 1024-QAM, theo.", "Standard-CP, 1024-QAM, sim.", "Sufficient-CP, 1024-QAM, sim."],
                "range": ["M-2.85,0H2.85", "M-2.85,0H2.85", "M0,-0.85L0.85,0.62L-0.85,0.62Z", "M-0.75,0A0.75,0.75,0,1,0,0.75,0A0.75,0.75,0,1,0,-0.75,0Z", "M-2.85,0H2.85", "M-2.85,0H2.85", "M-0.55,-0.55L0.55,0.55M-0.55,0.55L0.55,-0.55", "M-0.6,-0.6H0.6V0.6H-0.6Z"]
              },
              "legend": {"title": null, "orient": "none", "legendX": 4, "legendY": 0, "columns": 2, "columnPadding": 8, "rowPadding": 1.5, "symbolSize": 144, "symbolOffset": 10, "labelOffset": 12.3, "symbolStrokeWidth": 1.4, "labelFontSize": 12, "labelLimit": 400, "padding": 4.5, "strokeColor": "#2b2b2b", "fillColor": "#ffffff"}
            }
          }
        },
        {
          "spacing": 4.5,
          "resolve": {
            "scale": {"color": "independent", "shape": "independent"},
            "legend": {"color": "independent", "shape": "independent"}
          },
          "hconcat": [
            {
              "width": 167,
              "height": 249,
              "layer": [
                {
                  "data": {"name": "curves"},
                  "transform": [{"filter": "datum.panel === 'range'"}],
                  "mark": {"type": "line", "strokeWidth": 1.6, "clip": true},
                  "encoding": {
                    "x": {"field": "x", "type": "quantitative", "scale": {"domain": [400, 1000], "nice": false, "zero": false}, "axis": {"values": [400, 600, 800, 1000], "tickCount": 40, "format": "d", "labelOverlap": false, "title": "Range (m)"}},
                    "y": {"field": "p", "type": "quantitative", "scale": {"domain": [-125, -70], "nice": false, "zero": false}, "axis": {"values": [-125, -120, -115, -110, -105, -100, -95, -90, -85, -80, -75, -70], "tickCount": 40, "format": "d", "labelOverlap": false, "title": "Power (dBm)"}},
                    "color": {
                      "field": "series", "type": "nominal", "legend": null,
                      "scale": {
                        "domain": ["Standard-CP, QPSK, theo.", "Standard-CP, 1024-QAM, theo.", "Sufficient-CP, QPSK, theo.", "Sufficient-CP, 1024-QAM, theo."],
                        "range": ["#7E2F8E", "#D95319", "#77AC30", "#0072BD"]
                      }
                    }
                  }
                },
                {
                  "data": {"name": "targets"},
                  "transform": [{"filter": "datum.panel === 'range'"}],
                  "mark": {"type": "rule", "strokeDash": [6, 4], "strokeWidth": 1.5, "color": "#3a3a3a"},
                  "encoding": {"x": {"field": "x", "type": "quantitative"}}
                },
                {
                  "data": {"name": "sims"},
                  "transform": [{"filter": "datum.panel === 'range'"}],
                  "mark": {"type": "point", "size": 144, "filled": false, "strokeWidth": 1.1, "opacity": 1},
                  "encoding": {
                    "x": {"field": "x", "type": "quantitative"},
                    "y": {"field": "p", "type": "quantitative"},
                    "color": {
                      "field": "series", "type": "nominal", "legend": null,
                      "scale": {
                        "domain": ["Standard-CP, QPSK, sim.", "Standard-CP, 1024-QAM, sim.", "Sufficient-CP, QPSK, sim.", "Sufficient-CP, 1024-QAM, sim."],
                        "range": ["#7E2F8E", "#D95319", "#77AC30", "#0072BD"]
                      }
                    },
                    "shape": {
                      "field": "series", "type": "nominal", "legend": null,
                      "scale": {
                        "domain": ["Standard-CP, QPSK, sim.", "Standard-CP, 1024-QAM, sim.", "Sufficient-CP, QPSK, sim.", "Sufficient-CP, 1024-QAM, sim."],
                        "range": ["M0,-0.85L0.85,0.62L-0.85,0.62Z", "M-0.55,-0.55L0.55,0.55M-0.55,0.55L0.55,-0.55", "M-0.75,0A0.75,0.75,0,1,0,0.75,0A0.75,0.75,0,1,0,-0.75,0Z", "M-0.6,-0.6H0.6V0.6H-0.6Z"]
                      }
                    }
                  }
                },
                {
                  "data": {"name": "targets"},
                  "transform": [{"filter": "datum.panel === 'range' && datum.label === 'Target 1'"}],
                  "mark": {"type": "text", "align": "right", "baseline": "middle", "dx": -6},
                  "encoding": {"x": {"field": "x", "type": "quantitative"}, "y": {"datum": -72.4}, "text": {"field": "label"}}
                },
                {
                  "data": {"name": "targets"},
                  "transform": [{"filter": "datum.panel === 'range' && datum.label === 'Target 2'"}],
                  "mark": {"type": "text", "align": "left", "baseline": "middle", "dx": 6},
                  "encoding": {"x": {"field": "x", "type": "quantitative"}, "y": {"datum": -72.4}, "text": {"field": "label"}}
                }
              ]
            },
            {
              "width": 170,
              "height": 249,
              "layer": [
                {
                  "data": {"name": "curves"},
                  "transform": [{"filter": "datum.panel === 'velocity'"}],
                  "mark": {"type": "line", "strokeWidth": 1.6, "clip": true},
                  "encoding": {
                    "x": {"field": "x", "type": "quantitative", "scale": {"domain": [-160, 100], "nice": false, "zero": false}, "axis": {"values": [-150, -100, -50, 0, 50, 100], "tickCount": 40, "format": "d", "labelOverlap": false, "title": "Velocity (m/s)"}},
                    "y": {"field": "p", "type": "quantitative", "scale": {"domain": [-125, -70], "nice": false, "zero": false}, "axis": {"values": [-125, -120, -115, -110, -105, -100, -95, -90, -85, -80, -75, -70], "tickCount": 40, "format": "d", "labelOverlap": false, "labelPadding": 7, "title": "Power (dBm)"}},
                    "color": {
                      "field": "series", "type": "nominal", "legend": null,
                      "scale": {
                        "domain": ["Standard-CP, QPSK, theo.", "Standard-CP, 1024-QAM, theo.", "Sufficient-CP, QPSK, theo.", "Sufficient-CP, 1024-QAM, theo."],
                        "range": ["#7E2F8E", "#D95319", "#77AC30", "#0072BD"]
                      }
                    }
                  }
                },
                {
                  "data": {"name": "targets"},
                  "transform": [{"filter": "datum.panel === 'velocity'"}],
                  "mark": {"type": "rule", "strokeDash": [6, 4], "strokeWidth": 1.5, "color": "#3a3a3a"},
                  "encoding": {"x": {"field": "x", "type": "quantitative"}}
                },
                {
                  "data": {"name": "sims"},
                  "transform": [{"filter": "datum.panel === 'velocity'"}],
                  "mark": {"type": "point", "size": 144, "filled": false, "strokeWidth": 1.1, "opacity": 1},
                  "encoding": {
                    "x": {"field": "x", "type": "quantitative"},
                    "y": {"field": "p", "type": "quantitative"},
                    "color": {
                      "field": "series", "type": "nominal", "legend": null,
                      "scale": {
                        "domain": ["Standard-CP, QPSK, sim.", "Standard-CP, 1024-QAM, sim.", "Sufficient-CP, QPSK, sim.", "Sufficient-CP, 1024-QAM, sim."],
                        "range": ["#7E2F8E", "#D95319", "#77AC30", "#0072BD"]
                      }
                    },
                    "shape": {
                      "field": "series", "type": "nominal", "legend": null,
                      "scale": {
                        "domain": ["Standard-CP, QPSK, sim.", "Standard-CP, 1024-QAM, sim.", "Sufficient-CP, QPSK, sim.", "Sufficient-CP, 1024-QAM, sim."],
                        "range": ["M0,-0.85L0.85,0.62L-0.85,0.62Z", "M-0.55,-0.55L0.55,0.55M-0.55,0.55L0.55,-0.55", "M-0.75,0A0.75,0.75,0,1,0,0.75,0A0.75,0.75,0,1,0,-0.75,0Z", "M-0.6,-0.6H0.6V0.6H-0.6Z"]
                      }
                    }
                  }
                },
                {
                  "data": {"name": "targets"},
                  "transform": [{"filter": "datum.panel === 'velocity' && datum.label === 'Target 1'"}],
                  "mark": {"type": "text", "align": "right", "baseline": "middle", "dx": -6},
                  "encoding": {"x": {"field": "x", "type": "quantitative"}, "y": {"datum": -72.4}, "text": {"field": "label"}}
                },
                {
                  "data": {"name": "targets"},
                  "transform": [{"filter": "datum.panel === 'velocity' && datum.label === 'Target 2'"}],
                  "mark": {"type": "text", "align": "left", "baseline": "middle", "dx": 5},
                  "encoding": {"x": {"field": "x", "type": "quantitative"}, "y": {"datum": -72.4}, "text": {"field": "label"}}
                }
              ]
            }
          ]
        }
      ]
    },
    {
      "spacing": 11,
      "resolve": {
        "scale": {"color": "independent", "shape": "independent"},
        "legend": {"color": "independent", "shape": "independent"}
      },
      "vconcat": [
        {
          "width": 1,
          "height": 1,
          "view": {"stroke": null},
          "data": {"name": "bench"},
          "transform": [{"filter": "false"}],
          "mark": {"type": "point", "filled": false},
          "encoding": {
            "color": {
              "field": "series", "type": "nominal",
              "scale": {"domain": ["SIC-DFT", "TDCC", "SIC-ESPRIT", "FDCC", "Sufficient-CP", "MTCC"], "range": ["#0072BD", "#7E2F8E", "#77AC30", "#D95319", "#77AC30", "#F28BC3"]},
              "legend": {"title": null, "orient": "none", "legendX": 21, "legendY": 0, "columns": 3, "columnPadding": 8.5, "rowPadding": 3.5, "symbolSize": 144, "symbolOffset": 10.4, "labelOffset": 13.2, "symbolStrokeWidth": 1.5, "labelFontSize": 14, "labelLimit": 400, "padding": 3.4, "strokeColor": "#2b2b2b", "fillColor": "#ffffff"}
            },
            "shape": {
              "field": "series", "type": "nominal",
              "scale": {
                "domain": ["SIC-DFT", "TDCC", "SIC-ESPRIT", "FDCC", "Sufficient-CP", "MTCC"],
                "range": ["M-2.9,0H-0.45M0.45,0H2.9M-0.45,-0.45H0.45V0.45H-0.45Z", "M-2.85,0H-1.75M-0.6,0H0.6M1.75,0H2.85", "M-2.9,0H-0.5M0.5,0H2.9M-0.5,0A0.5,0.5,0,1,0,0.5,0A0.5,0.5,0,1,0,-0.5,0Z", "M-2.85,0H-1.75M-0.6,0H0.6M1.75,0H2.85", "M-2.85,0H-1.75M-0.6,0H0.6M1.75,0H2.85", "M-2.85,0H-1.75M-0.6,0H0.6M1.75,0H2.85"]
              },
              "legend": {"title": null, "orient": "none", "legendX": 21, "legendY": 0, "columns": 3, "columnPadding": 8.5, "rowPadding": 3.5, "symbolSize": 144, "symbolOffset": 10.4, "labelOffset": 13.2, "symbolStrokeWidth": 1.5, "labelFontSize": 14, "labelLimit": 400, "padding": 3.4, "strokeColor": "#2b2b2b", "fillColor": "#ffffff"}
            }
          }
        },
        {
          "spacing": 22,
          "resolve": {
            "scale": {"color": "independent", "shape": "independent"},
            "legend": {"color": "independent", "shape": "independent"}
          },
          "hconcat": [
            {
              "width": 156,
              "height": 260,
              "layer": [
                {
                  "data": {"name": "bench"},
                  "transform": [{"filter": "datum.metric === 'SINR'"}],
                  "mark": {"type": "rule", "strokeDash": [7, 4], "strokeWidth": 1.5},
                  "encoding": {
                    "y": {"field": "v", "type": "quantitative", "scale": {"domain": [-5, 1], "nice": false, "zero": false}, "axis": {"values": [-5, -4, -3, -2, -1, 0, 1], "tickCount": 40, "format": "d", "labelOverlap": false, "labelPadding": 7, "title": "SINR (dB)", "titleFontSize": 14}},
                    "color": {
                      "field": "series", "type": "nominal", "legend": null,
                      "scale": {"domain": ["SIC-DFT", "SIC-ESPRIT", "Sufficient-CP", "TDCC", "FDCC", "MTCC"], "range": ["#0072BD", "#77AC30", "#77AC30", "#7E2F8E", "#D95319", "#F28BC3"]}
                    }
                  }
                },
                {
                  "data": {"name": "iter"},
                  "transform": [{"filter": "datum.metric === 'SINR'"}],
                  "mark": {"type": "line", "strokeWidth": 1.5},
                  "encoding": {
                    "x": {"field": "it", "type": "quantitative", "scale": {"domain": [0, 5], "nice": false, "zero": false}, "axis": {"values": [0, 1, 2, 3, 4, 5], "tickCount": 40, "format": "d", "labelOverlap": false, "labelPadding": 8, "titlePadding": 3, "title": "Iteration", "titleFontSize": 14}},
                    "y": {"field": "v", "type": "quantitative", "axis": {"values": [-5, -4, -3, -2, -1, 0, 1], "tickCount": 40, "format": "d", "labelOverlap": false, "labelPadding": 7, "title": "SINR (dB)", "titleFontSize": 14}},
                    "color": {
                      "field": "series", "type": "nominal", "legend": null,
                      "scale": {"domain": ["SIC-DFT", "SIC-ESPRIT", "Sufficient-CP", "TDCC", "FDCC", "MTCC"], "range": ["#0072BD", "#77AC30", "#77AC30", "#7E2F8E", "#D95319", "#F28BC3"]}
                    }
                  }
                },
                {
                  "data": {"name": "iter"},
                  "transform": [{"filter": "datum.metric === 'SINR' && datum.series === 'SIC-DFT'"}],
                  "mark": {"type": "point", "shape": "square", "size": 40, "filled": false, "strokeWidth": 1.4, "opacity": 1},
                  "encoding": {
                    "x": {"field": "it", "type": "quantitative"},
                    "y": {"field": "v", "type": "quantitative"},
                    "color": {"field": "series", "type": "nominal", "legend": null, "scale": {"domain": ["SIC-DFT", "SIC-ESPRIT", "Sufficient-CP", "TDCC", "FDCC", "MTCC"], "range": ["#0072BD", "#77AC30", "#77AC30", "#7E2F8E", "#D95319", "#F28BC3"]}}
                  }
                },
                {
                  "data": {"name": "iter"},
                  "transform": [{"filter": "datum.metric === 'SINR' && datum.series === 'SIC-ESPRIT'"}],
                  "mark": {"type": "point", "shape": "circle", "size": 75, "filled": false, "strokeWidth": 1.4, "opacity": 1},
                  "encoding": {
                    "x": {"field": "it", "type": "quantitative"},
                    "y": {"field": "v", "type": "quantitative"},
                    "color": {"field": "series", "type": "nominal", "legend": null, "scale": {"domain": ["SIC-DFT", "SIC-ESPRIT", "Sufficient-CP", "TDCC", "FDCC", "MTCC"], "range": ["#0072BD", "#77AC30", "#77AC30", "#7E2F8E", "#D95319", "#F28BC3"]}}
                  }
                }
              ]
            },
            {
              "width": 156,
              "height": 260,
              "layer": [
                {
                  "data": {"name": "bench"},
                  "transform": [{"filter": "datum.metric === 'PSLR'"}],
                  "mark": {"type": "rule", "strokeDash": [7, 4], "strokeWidth": 1.5},
                  "encoding": {
                    "y": {"field": "v", "type": "quantitative", "scale": {"domain": [-28, -12], "nice": false, "zero": false}, "axis": {"values": [-28, -26, -24, -22, -20, -18, -16, -14, -12], "tickCount": 40, "format": "d", "labelOverlap": false, "labelPadding": 10.5, "title": "PSLR (dB)", "titleFontSize": 14}},
                    "color": {
                      "field": "series", "type": "nominal", "legend": null,
                      "scale": {"domain": ["SIC-DFT", "SIC-ESPRIT", "Sufficient-CP", "TDCC", "FDCC", "MTCC"], "range": ["#0072BD", "#77AC30", "#77AC30", "#7E2F8E", "#D95319", "#F28BC3"]}
                    }
                  }
                },
                {
                  "data": {"name": "iter"},
                  "transform": [{"filter": "datum.metric === 'PSLR'"}],
                  "mark": {"type": "line", "strokeWidth": 1.5},
                  "encoding": {
                    "x": {"field": "it", "type": "quantitative", "scale": {"domain": [0, 5], "nice": false, "zero": false}, "axis": {"values": [0, 1, 2, 3, 4, 5], "tickCount": 40, "format": "d", "labelOverlap": false, "labelPadding": 8, "titlePadding": 3, "title": "Iteration", "titleFontSize": 14}},
                    "y": {"field": "v", "type": "quantitative", "axis": {"values": [-28, -26, -24, -22, -20, -18, -16, -14, -12], "tickCount": 40, "format": "d", "labelOverlap": false, "labelPadding": 10.5, "title": "PSLR (dB)", "titleFontSize": 14}},
                    "color": {
                      "field": "series", "type": "nominal", "legend": null,
                      "scale": {"domain": ["SIC-DFT", "SIC-ESPRIT", "Sufficient-CP", "TDCC", "FDCC", "MTCC"], "range": ["#0072BD", "#77AC30", "#77AC30", "#7E2F8E", "#D95319", "#F28BC3"]}
                    }
                  }
                },
                {
                  "data": {"name": "iter"},
                  "transform": [{"filter": "datum.metric === 'PSLR' && datum.series === 'SIC-DFT'"}],
                  "mark": {"type": "point", "shape": "square", "size": 40, "filled": false, "strokeWidth": 1.4, "opacity": 1},
                  "encoding": {
                    "x": {"field": "it", "type": "quantitative"},
                    "y": {"field": "v", "type": "quantitative"},
                    "color": {"field": "series", "type": "nominal", "legend": null, "scale": {"domain": ["SIC-DFT", "SIC-ESPRIT", "Sufficient-CP", "TDCC", "FDCC", "MTCC"], "range": ["#0072BD", "#77AC30", "#77AC30", "#7E2F8E", "#D95319", "#F28BC3"]}}
                  }
                }
              ]
            }
          ]
        }
      ]
    }
  ]
}
